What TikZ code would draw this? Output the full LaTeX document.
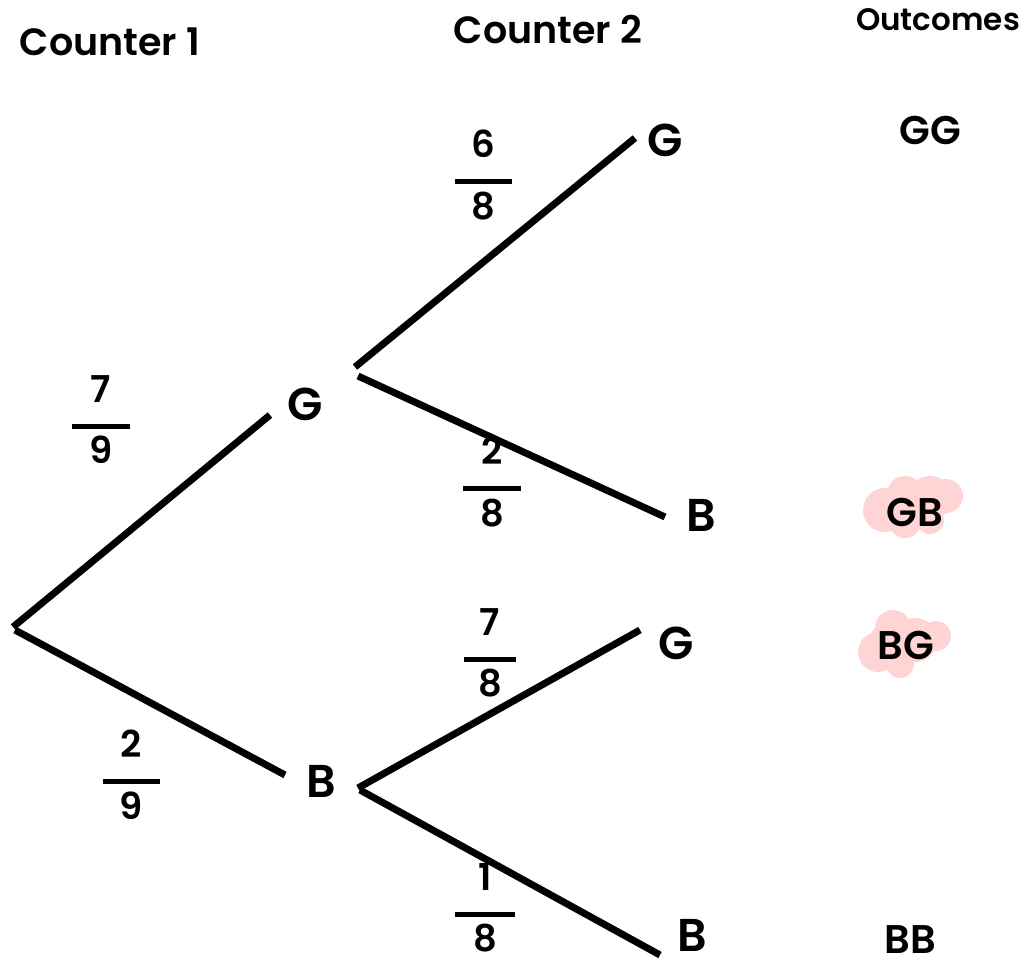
\documentclass[tikz,border=0pt]{standalone}
\usepackage{fontspec}
\setmainfont{Poppins}[BoldFont=* SemiBold]
\definecolor{hl}{RGB}{255,212,212}
\newcommand\myfrac[3]{\begin{tabular}{@{}c@{}}#2\\[-10pt]\rule{#1}{5pt}\\[-4pt]#3\end{tabular}}
\tikzset{
  branch/.style={line width=7pt, line cap=butt},
  lbl/.style={font=\fontsize{46}{46}\selectfont\bfseries, inner sep=0pt},
  head/.style={font=\fontsize{38}{38}\selectfont\bfseries, inner sep=0pt},
  frc/.style={font=\fontsize{37}{37}\selectfont\bfseries, inner sep=0pt},
  outc/.style={font=\fontsize{40}{40}\selectfont\bfseries, inner sep=0pt}
}
\begin{document}
\begin{tikzpicture}[x=1pt,y=-1pt]
\useasboundingbox (0,0) rectangle (1022,969);
% highlights
\fill[hl] (885,510) circle (22) (905,494) circle (18) (930,498) circle (22) (946,496) circle (17) (905,522) circle (16) (930,520) circle (14);
\fill[hl] (878,652) circle (20) (893,628) circle (18) (915,640) circle (22) (936,636) circle (15) (900,664) circle (14) (888,640) circle (18);
% headers
\node[head] (h1) at (110,42) {Counter 1};
\node[head] (h2) at (548,30) {Counter 2};
\node[head, font=\fontsize{31}{31}\selectfont\bfseries] (h3) at (938,20) {Outcomes};
% nodes
\coordinate (root) at (13,627);
\node[lbl] (G1) at (305,404) {G};
\node[lbl] (B1) at (321,781) {B};
\node[lbl] (G2) at (665,140) {G};
\node[lbl] (B2) at (701,515) {B};
\node[lbl] (G3) at (676,643) {G};
\node[lbl] (B3) at (692,935) {B};
% branches
\draw[branch] (root) -- ([shift={(-35,11)}]G1.center);
\draw[branch] ([shift={(2,3)}]root) -- ([shift={(-36,-6)}]B1.center);
\draw[branch] ([shift={(50,-37)}]G1.center) -- ([shift={(-30,-2)}]G2.center);
\draw[branch] ([shift={(53,-28)}]G1.center) -- ([shift={(-36,2)}]B2.center);
\draw[branch] ([shift={(37,7)}]B1.center) -- ([shift={(-36,-13)}]G3.center);
\draw[branch] ([shift={(39,9)}]B1.center) -- ([shift={(-32,20)}]B3.center);
% probabilities
\node[frc] (p1) at (101,425) {\myfrac{58pt}{7}{9}};
\node[frc] (p2) at (131,780) {\myfrac{57pt}{2}{9}};
\node[frc] (p3) at (483,180) {\myfrac{57pt}{6}{8}};
\node[frc] (p4) at (492,487) {\myfrac{58pt}{2}{8}};
\node[frc] (p5) at (490,658) {\myfrac{52pt}{7}{8}};
\node[frc] (p6) at (485,913) {\myfrac{60pt}{1}{8}};
% outcomes
\node[outc] (o1) at (930,130) {GG};
\node[outc] (o2) at (915,512) {GB};
\node[outc] (o3) at (906,645) {BG};
\node[outc] (o4) at (910,940) {BB};
\end{tikzpicture}
\end{document}
